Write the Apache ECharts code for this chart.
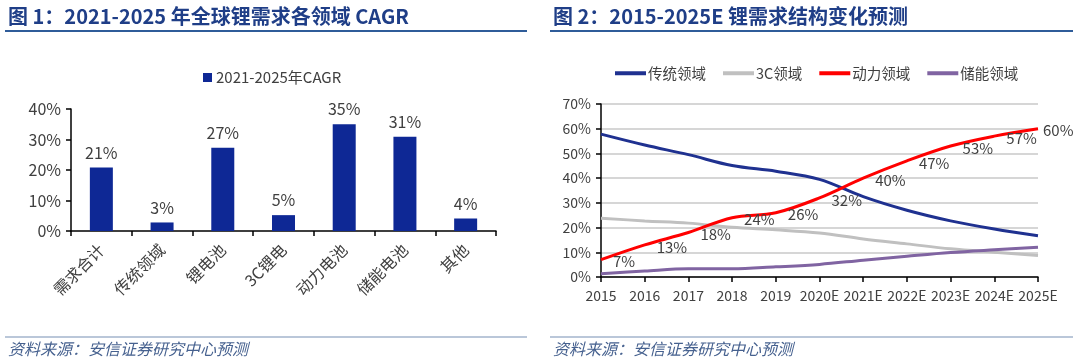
<!DOCTYPE html>
<html>
<head>
<meta charset="utf-8">
<script src="https://cdn.jsdelivr.net/npm/echarts@6/dist/echarts.min.js"></script>
<style>
html,body{margin:0;padding:0;background:#fff;}
#main{width:1080px;height:362px;}
</style>
</head>
<body>
<div id="main"></div>
<script>
// ---- data ----
const title1 = '图 1：2021-2025 年全球锂需求各领域 CAGR';
const title2 = '图 2：2015-2025E 锂需求结构变化预测';
const sourceNote = '资料来源：安信证券研究中心预测';

const barCategories = ['需求合计', '传统领域', '锂电池', '3C锂电', '动力电池', '储能电池', '其他'];
const barName = '2021-2025年CAGR';
const barValues = [20.8, 2.8, 27.3, 5.2, 35.0, 30.9, 4.1];

const years = ['2015', '2016', '2017', '2018', '2019', '2020E', '2021E', '2022E', '2023E', '2024E', '2025E'];
const lineNames = ['传统领域', '3C领域', '动力领域', '储能领域'];
const traditional = [57.8, 53.4, 49.5, 45.1, 42.8, 39.5, 32.5, 27.0, 22.7, 19.4, 16.7];
const consumer3C = [23.8, 22.7, 21.8, 20.1, 19.1, 17.8, 15.4, 13.4, 11.4, 10.0, 8.7];
const power = [7, 13, 18, 24, 26, 32, 40, 47, 53, 57, 60];
const storage = [1.3, 2.4, 3.3, 3.3, 4.1, 5.1, 6.8, 8.4, 9.9, 11.0, 12.0];

// ---- styles ----
const FONT = '"Noto Sans CJK SC", "Noto Sans", sans-serif';
const TXT = '#404040';
const chart = echarts.init(document.getElementById('main'), null, {renderer: 'canvas'});

const axisLine = {show: true, lineStyle: {color: '#000', width: 1.5}};
const axisTick = {show: true, length: 5, lineStyle: {color: '#000', width: 1.5}};

const powerData = power.map((v, i) => i === power.length - 1
  ? {value: v, label: {distance: 5}} : v);

const option = {
  animation: false,
  textStyle: {fontFamily: FONT},
  graphic: [
    {type: 'text', x: 8, y: 16, style: {text: title1, font: 'bold 20px ' + FONT, fill: '#1F3E87', verticalAlign: 'middle'}},
    {type: 'text', x: 553, y: 16, style: {text: title2, font: 'bold 20px ' + FONT, fill: '#1F3E87', verticalAlign: 'middle'}},
    {type: 'line', shape: {x1: 5, y1: 31, x2: 527, y2: 31}, style: {stroke: '#2F5C99', lineWidth: 2}},
    {type: 'line', shape: {x1: 550, y1: 31, x2: 1073, y2: 31}, style: {stroke: '#2F5C99', lineWidth: 2}},
    {type: 'line', shape: {x1: 5, y1: 337, x2: 527, y2: 337}, style: {stroke: '#A3B4CC', lineWidth: 1.5}},
    {type: 'line', shape: {x1: 550, y1: 337, x2: 1073, y2: 337}, style: {stroke: '#A3B4CC', lineWidth: 1.5}},
    {type: 'text', x: 8, y: 349, style: {text: sourceNote, font: 'italic 16px ' + FONT, fill: '#46618F', verticalAlign: 'middle'}},
    {type: 'text', x: 553, y: 349, style: {text: sourceNote, font: 'italic 16px ' + FONT, fill: '#46618F', verticalAlign: 'middle'}}
  ],
  legend: [
    {
      data: [barName], left: 198, top: 65, icon: 'rect', itemWidth: 9, itemHeight: 9, itemGap: 10,
      textStyle: {fontSize: 15, color: TXT, fontFamily: FONT, padding: [0, 0, 0, -1]}
    },
    {
      data: lineNames, left: 610, top: 61, icon: 'rect', itemWidth: 31, itemHeight: 4, itemGap: 17,
      textStyle: {fontSize: 14.5, color: TXT, fontFamily: FONT, padding: [0, 0, 0, -3]}
    }
  ],
  grid: [
    {left: 71, top: 109, width: 425, height: 122, containLabel: false},
    {left: 601, top: 104, width: 437, height: 173, containLabel: false}
  ],
  xAxis: [
    {
      type: 'category', gridIndex: 0, data: barCategories, boundaryGap: true,
      axisLine: axisLine, axisTick: axisTick,
      axisLabel: {rotate: 45, margin: 16, fontSize: 16, color: TXT, fontFamily: FONT, interval: 0}
    },
    {
      type: 'category', gridIndex: 1, data: years, boundaryGap: false,
      axisLine: axisLine, axisTick: axisTick,
      axisLabel: {margin: 12, fontSize: 14, color: TXT, fontFamily: FONT, interval: 0}
    }
  ],
  yAxis: [
    {
      type: 'value', gridIndex: 0, min: 0, max: 40, interval: 10,
      axisLine: axisLine, axisTick: axisTick, splitLine: {show: false},
      axisLabel: {formatter: '{value}%', margin: 10, fontSize: 16, color: TXT, fontFamily: FONT}
    },
    {
      type: 'value', gridIndex: 1, min: 0, max: 70, interval: 10,
      axisLine: axisLine, axisTick: axisTick,
      splitLine: {show: true, lineStyle: {color: '#C8C8C8', width: 1.5}},
      axisLabel: {formatter: '{value}%', margin: 10, fontSize: 14, color: TXT, fontFamily: FONT}
    }
  ],
  series: [
    {
      name: barName, type: 'bar', xAxisIndex: 0, yAxisIndex: 0, data: barValues,
      barWidth: 23, itemStyle: {color: '#0E2895'},
      label: {show: true, position: 'top', distance: 7, fontSize: 16, color: TXT, fontFamily: FONT,
        formatter: p => Math.round(p.value) + '%'}
    },
    {
      name: lineNames[0], type: 'line', xAxisIndex: 1, yAxisIndex: 1, data: traditional,
      smooth: 0.35, symbol: 'none', lineStyle: {color: '#1F3190', width: 3}, itemStyle: {color: '#1F3190'}
    },
    {
      name: lineNames[1], type: 'line', xAxisIndex: 1, yAxisIndex: 1, data: consumer3C,
      smooth: 0.35, symbol: 'none', lineStyle: {color: '#C0C0C0', width: 3}, itemStyle: {color: '#C0C0C0'}
    },
    {
      name: lineNames[2], type: 'line', xAxisIndex: 1, yAxisIndex: 1, data: powerData,
      smooth: 0.35, symbol: 'circle', symbolSize: 0, showSymbol: true,
      lineStyle: {color: '#FF0000', width: 3}, itemStyle: {color: '#FF0000'},
      label: {show: true, position: 'right', distance: 12, offset: [0, 2], fontSize: 15, color: TXT, fontFamily: FONT,
        formatter: p => p.value + '%'}
    },
    {
      name: lineNames[3], type: 'line', xAxisIndex: 1, yAxisIndex: 1, data: storage,
      smooth: 0.35, symbol: 'none', lineStyle: {color: '#8064A2', width: 3}, itemStyle: {color: '#8064A2'}
    }
  ]
};
chart.setOption(option);
</script>
</body>
</html>
